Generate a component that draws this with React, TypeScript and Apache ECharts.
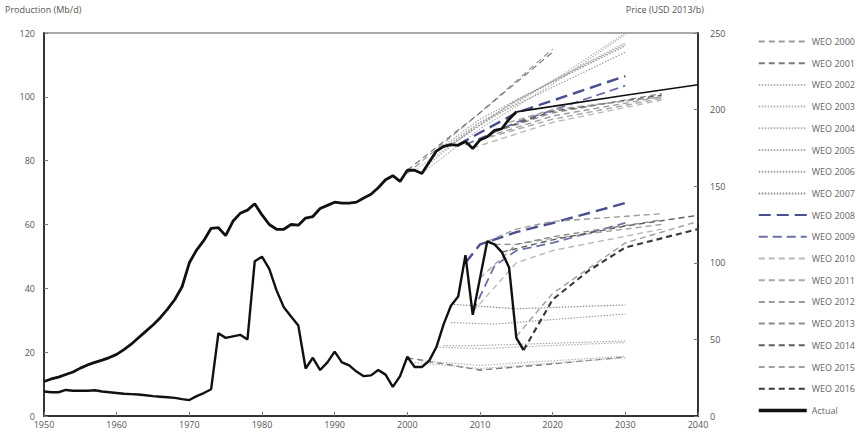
import React, { useEffect, useRef } from "react";
import * as echarts from "echarts";

// ---------- DATA ----------
const PROD_START = 1950;
const actualProduction = [
  10.8, 11.6, 12.2, 13.0, 13.8, 15.0, 16.0, 16.8, 17.5, 18.3,
  19.3, 20.8, 22.5, 24.5, 26.5, 28.5, 30.8, 33.5, 36.5, 40.5,
  48.0, 52.0, 55.0, 58.8, 59.0, 56.5, 61.0, 63.5, 64.5, 66.5,
  63.0, 60.0, 58.5, 58.5, 60.0, 59.8, 62.0, 62.5, 65.0, 66.0,
  67.0, 66.7, 66.7, 67.0, 68.3, 69.5, 71.5, 74.0, 75.3, 73.5,
  77.0, 77.0, 76.0, 79.5, 83.0, 84.5, 85.0, 84.8, 86.0, 83.8,
  86.5, 87.5, 89.5, 90.0, 93.0, 95.3,
];
const PRICE_START = 1950;
const actualPrice = [
  16, 15.5, 15.5, 17, 16.5, 16.5, 16.5, 16.8, 16.0, 15.5,
  15, 14.5, 14.3, 14, 13.5, 13, 12.6, 12.2, 11.8, 11,
  10.4, 13, 15, 17.5, 54, 51, 52, 53, 50, 101,
  104, 96, 82, 71, 65, 59, 31, 38, 30, 35,
  42, 35, 33, 29, 26, 26.5, 30, 27, 19, 26,
  38.7, 32, 32, 36, 45, 60, 72, 78, 105, 66,
  90, 114, 112, 107, 97, 51, 43,
];

const weoNames = [
  "WEO 2000", "WEO 2001", "WEO 2002", "WEO 2003", "WEO 2004", "WEO 2005",
  "WEO 2006", "WEO 2007", "WEO 2008", "WEO 2009", "WEO 2010", "WEO 2011",
  "WEO 2012", "WEO 2013", "WEO 2014", "WEO 2015", "WEO 2016",
];

// production projections [year, Mb/d]
const prodWeo2000 = [[2000, 76], [2010, 95], [2020, 115]];
const prodWeo2001 = [[2000, 77], [2010, 95], [2020, 114]];
const prodWeo2002 = [[2001, 77], [2010, 91], [2020, 105], [2030, 120]];
const prodWeo2003 = [[2002, 76], [2010, 90], [2020, 104], [2030, 119.5]];
const prodWeo2004 = [[2003, 79], [2010, 92], [2020, 105], [2030, 117]];
const prodWeo2005 = [[2004, 83], [2010, 93], [2020, 105], [2030, 116.5]];
const prodWeo2006 = [[2005, 84], [2010, 92], [2020, 103], [2030, 114]];
const prodWeo2007 = [[2006, 85], [2015, 99], [2030, 116]];
const prodWeo2008 = [[2007, 85], [2015, 95], [2030, 106.5]];
const prodWeo2009 = [[2008, 85], [2015, 92], [2030, 103.5]];
const prodWeo2010 = [[2009, 84], [2020, 92], [2035, 99]];
const prodWeo2011 = [[2010, 86.5], [2020, 93], [2035, 99.5]];
const prodWeo2012 = [[2011, 87.5], [2020, 94], [2035, 100]];
const prodWeo2013 = [[2012, 89], [2020, 95], [2035, 101]];
const prodWeo2014 = [[2013, 90], [2020, 95.5], [2035, 100.5]];
const prodWeo2015 = [[2014, 92], [2020, 96], [2035, 100]];
const prodWeo2016 = [[2015, 95.3], [2020, 97], [2030, 100.5], [2040, 103.8]];

// price projections [year, USD 2013/b]
const priceWeo2000 = [[2000, 38], [2010, 30], [2020, 34]];
const priceWeo2001 = [[2000, 38], [2010, 30], [2020, 34], [2030, 38.5]];
const priceWeo2002 = [[2001, 35], [2010, 31], [2030, 38]];
const priceWeo2003 = [[2002, 36], [2010, 33], [2030, 39]];
const priceWeo2004 = [[2004, 45], [2010, 44], [2030, 48]];
const priceWeo2005 = [[2005, 46], [2010, 46], [2030, 49]];
const priceWeo2006 = [[2006, 61], [2012, 60], [2030, 66.6]];
const priceWeo2007 = [[2006, 73], [2015, 70], [2030, 72.5]];
const priceWeo2008 = [[2008, 100], [2010, 112], [2015, 120], [2020, 126], [2030, 139]];
const priceWeo2009 = [[2009, 68], [2012, 98], [2015, 108], [2020, 113], [2030, 126]];
const priceWeo2010 = [[2009, 68], [2015, 100], [2020, 108], [2035, 122]];
const priceWeo2011 = [[2010, 90], [2015, 112], [2020, 116], [2035, 125]];
const priceWeo2012 = [[2011, 114], [2015, 122], [2020, 127], [2035, 132]];
const priceWeo2013 = [[2012, 112], [2015, 112], [2020, 117], [2035, 128]];
const priceWeo2014 = [[2013, 107], [2020, 115], [2030, 124], [2040, 131]];
const priceWeo2015 = [[2015, 52], [2020, 80], [2030, 113], [2040, 127]];
const priceWeo2016 = [[2016, 43], [2020, 76], [2025, 95], [2030, 110], [2040, 122]];

const prodProjections = [
  prodWeo2000, prodWeo2001, prodWeo2002, prodWeo2003, prodWeo2004, prodWeo2005,
  prodWeo2006, prodWeo2007, prodWeo2008, prodWeo2009, prodWeo2010, prodWeo2011,
  prodWeo2012, prodWeo2013, prodWeo2014, prodWeo2015, prodWeo2016,
];
const priceProjections = [
  priceWeo2000, priceWeo2001, priceWeo2002, priceWeo2003, priceWeo2004, priceWeo2005,
  priceWeo2006, priceWeo2007, priceWeo2008, priceWeo2009, priceWeo2010, priceWeo2011,
  priceWeo2012, priceWeo2013, priceWeo2014, priceWeo2015, priceWeo2016,
];

const xTicks = [1950, 1960, 1970, 1980, 1990, 2000, 2010, 2020, 2030, 2040];

// ---------- STYLES ----------
const weoStyles: { color: string; type: any; width: number }[] = [
  { color: "#9a9a9a", type: [6, 4], width: 1.2 },
  { color: "#7a7a7a", type: [6, 4], width: 1.2 },
  { color: "#b4b4b4", type: [1.5, 1.5], width: 1.2 },
  { color: "#b4b4b4", type: [1.5, 1.5], width: 1.2 },
  { color: "#b0b0b0", type: [1.5, 1.5], width: 1.2 },
  { color: "#a8a8a8", type: [1.5, 1.5], width: 1.2 },
  { color: "#a0a0a0", type: [1.5, 1.5], width: 1.2 },
  { color: "#8a8a8a", type: [1.5, 1.5], width: 1.2 },
  { color: "#4a4f8e", type: [12, 6], width: 2.4 },
  { color: "#6b71a6", type: [9, 5], width: 1.8 },
  { color: "#b8b8b8", type: [6, 4], width: 1.4 },
  { color: "#a6a6a6", type: [6, 4], width: 1.4 },
  { color: "#9c9c9c", type: [6, 4], width: 1.4 },
  { color: "#8c8c8c", type: [6, 4], width: 1.4 },
  { color: "#5e5e5e", type: [6, 4], width: 1.4 },
  { color: "#a0a0a0", type: [6, 4], width: 1.4 },
  { color: "#3a3a3a", type: [6, 4], width: 2.2 },
];

const FONT = "Open Sans";

export default function App() {
  const ref = useRef<HTMLDivElement>(null);
  useEffect(() => {
    if (!ref.current) return;
    const chart = echarts.init(ref.current, undefined, { renderer: "svg" });

    const series: any[] = [];
    weoNames.forEach((name, i) => {
      const st = weoStyles[i];
      series.push({
        name,
        type: "line",
        yAxisIndex: 1,
        data: priceProjections[i],
        symbol: "none",
        lineStyle: { color: st.color, type: st.type, width: st.width },
        itemStyle: { color: st.color },
        z: 3,
      });
      const isLast = i === weoNames.length - 1;
      series.push({
        name,
        type: "line",
        yAxisIndex: 0,
        data: prodProjections[i],
        symbol: "none",
        lineStyle: isLast
          ? { color: "#111", type: "solid", width: 1.6 }
          : { color: st.color, type: st.type, width: st.width },
        itemStyle: { color: st.color },
        z: 3,
      });
    });
    series.push({
      name: "Actual",
      type: "line",
      yAxisIndex: 0,
      data: actualProduction.map((v, i) => [PROD_START + i, v]),
      symbol: "none",
      lineStyle: { color: "#111", width: 2.8 },
      itemStyle: { color: "#111" },
      z: 5,
    });
    series.push({
      name: "Actual",
      type: "line",
      yAxisIndex: 1,
      data: actualPrice.map((v, i) => [PRICE_START + i, v]),
      symbol: "none",
      lineStyle: { color: "#111", width: 2.4 },
      itemStyle: { color: "#111" },
      z: 5,
    });

    const legendData: any[] = [
      ...weoNames.map((n) => ({ name: n })),
      { name: "Actual", lineStyle: { color: "#111", width: 3.5, type: "solid" } },
    ];

    chart.setOption({
      animation: false,
      textStyle: { fontFamily: FONT },
      grid: {
        left: 44,
        right: 166,
        top: 33,
        bottom: 21,
        show: true,
        borderColor: "#555",
        borderWidth: 1.2,
      },
      legend: {
        orient: "vertical",
        left: 752,
        top: 32,
        itemWidth: 48,
        itemHeight: 9,
        itemGap: 12.7,
        data: legendData,
        itemStyle: { color: "rgba(0,0,0,0)", borderWidth: 0, opacity: 0 },
        textStyle: { fontSize: 9, color: "#666", fontFamily: FONT },
        inactiveColor: "#ccc",
      },
      xAxis: {
        type: "value",
        min: 1950,
        max: 2040,
        interval: 10,
        axisLine: { show: true, lineStyle: { color: "#333", width: 2 } },
        axisTick: { show: true, inside: true, length: 4, lineStyle: { color: "#777" } },
        axisLabel: {
          color: "#555",
          fontSize: 9,
          margin: 4,
          formatter: (v: number) => (xTicks.includes(v) ? String(v) : ""),
        },
        splitLine: { show: false },
      },
      yAxis: [
        {
          type: "value",
          min: 0,
          max: 120,
          interval: 20,
          position: "left",
          axisLine: { show: true, lineStyle: { color: "#333", width: 2 } },
          axisTick: { show: true, inside: true, length: 4, lineStyle: { color: "#777" } },
          axisLabel: { color: "#555", fontSize: 9, margin: 9 },
          splitLine: { show: false },
        },
        {
          type: "value",
          min: 0,
          max: 250,
          interval: 50,
          position: "right",
          axisLine: { show: true, lineStyle: { color: "#333", width: 2 } },
          axisTick: { show: true, inside: true, length: 4, lineStyle: { color: "#777" } },
          axisLabel: { color: "#555", fontSize: 9, margin: 12 },
          splitLine: { show: false },
        },
      ],
      graphic: [
        {
          type: "text",
          left: 5,
          top: 5,
          style: { text: "Production (Mb/d)", fontSize: 9, fill: "#555", fontFamily: FONT },
        },
        {
          type: "text",
          right: 160,
          top: 5,
          style: { text: "Price (USD 2013/b)", fontSize: 9, fill: "#555", fontFamily: FONT },
        },
      ],
      series,
    });
    return () => chart.dispose();
  }, []);

  return (
    <div
      ref={ref}
      style={{ position: "fixed", left: 0, top: 0, width: 864, height: 437, background: "#fff" }}
    />
  );
}
